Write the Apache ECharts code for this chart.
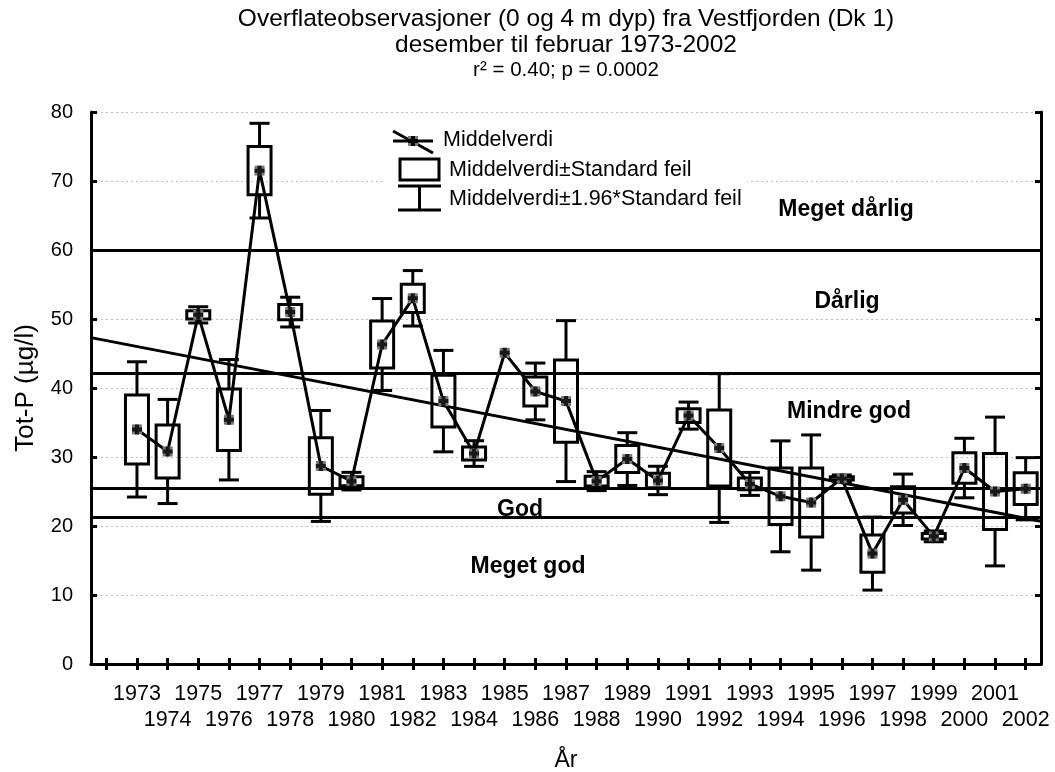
<!DOCTYPE html>
<html>
<head>
<meta charset="utf-8">
<script src="https://cdn.jsdelivr.net/npm/echarts@6/dist/echarts.min.js"></script>
<style>
  html, body { margin: 0; padding: 0; background: #fff; }
  #chart { width: 1055px; height: 772px; }
</style>
</head>
<body>
<div id="chart"></div>
<script>
// Winter (Dec–Feb) total phosphorus, surface samples, Vestfjorden (Dk 1)
const years = [1973, 1974, 1975, 1976, 1977, 1978, 1979, 1980, 1981, 1982,
               1983, 1984, 1985, 1986, 1987, 1988, 1989, 1990, 1991, 1992,
               1993, 1994, 1995, 1996, 1997, 1998, 1999, 2000, 2001, 2002];
// yearly mean Tot-P (µg/l)
const means = [34.0, 30.8, 50.6, 35.4, 71.5, 51.0, 28.7, 26.5, 46.3, 53.0,
               38.1, 30.5, 45.1, 39.5, 38.1, 26.5, 29.7, 26.6, 36.0, 31.3,
               26.1, 24.3, 23.4, 26.9, 16.0, 23.8, 18.5, 28.4, 25.0, 25.4];
// standard error of the yearly mean
const stdErr = [5.0, 3.85, 0.6, 4.45, 3.5, 1.1, 4.1, 0.65, 3.4, 2.05,
                3.75, 0.95, 0, 2.1, 5.95, 0.7, 1.95, 1.05, 1.0, 5.5,
                0.85, 4.1, 5.0, 0.25, 2.7, 1.9, 0.4, 2.2, 5.5, 2.3];
// class limits between condition classes (µg/l)
const classLimits = [21.2, 25.5, 42.2, 60];
// linear trend of the means, given at the ends of the x range
const trendYears = [1971.5, 2002.5];
const trendValues = [47.3, 20.7];
const tickYears = [1972].concat(years);
// year labels are staggered on two rows
const oddYears = years.filter(y => y % 2 === 1);
const evenYears = years.filter(y => y % 2 === 0);

const FONT = 'Liberation Sans, Arial, sans-serif';
const BLACK = '#000';

const chart = echarts.init(document.getElementById('chart'), null, { renderer: 'canvas' });

function renderErrorBox(params, api) {
  const x = api.value(0), m = api.value(1), se = api.value(2);
  if (!se) return null;
  const boxTop = api.coord([x, m + se]);
  const boxBot = api.coord([x, m - se]);
  const wTop = api.coord([x, m + 1.96 * se]);
  const wBot = api.coord([x, m - 1.96 * se]);
  const cx = boxTop[0];
  const bw = 23, cw = 20;
  const st = { stroke: BLACK, lineWidth: 3, fill: null };
  return {
    type: 'group',
    children: [
      { type: 'line', shape: { x1: cx, y1: boxTop[1], x2: cx, y2: wTop[1] }, style: st },
      { type: 'line', shape: { x1: cx - cw / 2, y1: wTop[1], x2: cx + cw / 2, y2: wTop[1] }, style: st },
      { type: 'line', shape: { x1: cx, y1: boxBot[1], x2: cx, y2: wBot[1] }, style: st },
      { type: 'line', shape: { x1: cx - cw / 2, y1: wBot[1], x2: cx + cw / 2, y2: wBot[1] }, style: st },
      { type: 'rect', shape: { x: cx - bw / 2, y: boxTop[1], width: bw, height: boxBot[1] - boxTop[1] },
        style: { stroke: BLACK, lineWidth: 3, fill: 'none' } }
    ]
  };
}

const axisLineStyle = { color: BLACK, width: 3 };
const tickStyle = { color: BLACK, width: 3 };
const yearText = v => String(v);

const bandLabel = (text, x, y) => ({
  type: 'text', x: x, y: y, z: 1,
  style: { text: text, font: 'bold 23px ' + FONT, fill: BLACK, align: 'center', verticalAlign: 'middle' }
});
const legendText = (text, x, y) => ({
  type: 'text', x: x, y: y, z: 4,
  style: { text: text, font: '21.5px ' + FONT, fill: BLACK, align: 'left', verticalAlign: 'middle' }
});
const lg = { stroke: BLACK, lineWidth: 3, fill: null };

const option = {
  animation: false,
  backgroundColor: '#fff',
  textStyle: { fontFamily: FONT },
  title: {
    text: 'Overflateobservasjoner (0 og 4 m dyp) fra Vestfjorden (Dk 1)\ndesember til februar 1973-2002',
    subtext: 'r² = 0.40; p = 0.0002',
    left: 566, top: 6, textAlign: 'center', padding: 0, itemGap: 0,
    textStyle: { fontFamily: FONT, fontSize: 24.5, fontWeight: 'normal', color: BLACK, lineHeight: 26 },
    subtextStyle: { fontFamily: FONT, fontSize: 20.5, color: BLACK, lineHeight: 24 }
  },
  grid: { left: 91, right: 14, top: 112, bottom: 108, containLabel: false, outerBoundsMode: 'none' },
  xAxis: [
    {
      type: 'value', position: 'bottom', offset: 0, min: trendYears[0], max: trendYears[1],
      name: 'År', nameLocation: 'middle', nameGap: 85,
      nameTextStyle: { fontFamily: FONT, fontSize: 23, color: BLACK },
      axisLine: { show: true, lineStyle: axisLineStyle },
      axisTick: { show: true, inside: true, length: 6, lineStyle: tickStyle, customValues: tickYears },
      axisLabel: {
        customValues: oddYears, formatter: yearText, fontSize: 21.5, color: BLACK, margin: 19,
        showMinLabel: true, showMaxLabel: true
      },
      splitLine: { show: false }
    },
    {
      type: 'value', position: 'top', offset: 0, min: trendYears[0], max: trendYears[1],
      axisLine: { show: true, lineStyle: axisLineStyle },
      axisTick: { show: true, inside: true, length: 6, lineStyle: tickStyle, customValues: tickYears },
      axisLabel: { show: false },
      splitLine: { show: false }
    },
    {
      type: 'value', position: 'bottom', offset: 0, min: trendYears[0], max: trendYears[1],
      axisLine: { show: false },
      axisTick: { show: false },
      axisLabel: {
        customValues: evenYears, formatter: yearText, fontSize: 21.5, color: BLACK, margin: 45,
        showMinLabel: true, showMaxLabel: true
      },
      splitLine: { show: false }
    }
  ],
  yAxis: [
    {
      type: 'value', position: 'left', min: 0, max: 80, interval: 10,
      name: 'Tot-P (µg/l)', nameLocation: 'middle', nameGap: 52, nameRotate: 90,
      nameTextStyle: { fontFamily: FONT, fontSize: 26, color: BLACK },
      axisLine: { show: true, lineStyle: axisLineStyle },
      axisTick: { show: true, inside: true, length: 6, lineStyle: tickStyle },
      axisLabel: { fontSize: 20, color: BLACK, margin: 18 },
      splitLine: { show: true, lineStyle: { color: '#bdbdbd', width: 1, type: [2, 3] } }
    },
    {
      type: 'value', position: 'right', min: 0, max: 80, interval: 10,
      axisLine: { show: true, lineStyle: axisLineStyle },
      axisTick: { show: true, inside: true, length: 6, lineStyle: tickStyle },
      axisLabel: { show: false },
      splitLine: { show: false }
    }
  ],
  graphic: [
    // blank panel behind the legend
    { type: 'rect', shape: { x: 384, y: 114, width: 363, height: 128 }, z: 1, silent: true,
      style: { fill: '#fff' } },
    bandLabel('Meget dårlig', 846, 210),
    bandLabel('Dårlig', 847, 302),
    bandLabel('Mindre god', 849, 412),
    bandLabel('God', 520, 510),
    bandLabel('Meget god', 528, 567),
    // legend: mean
    { type: 'line', z: 4, shape: { x1: 393, y1: 131, x2: 433, y2: 153 }, style: lg },
    { type: 'line', z: 4, shape: { x1: 393, y1: 141, x2: 433, y2: 141 }, style: lg },
    { type: 'rect', z: 5, shape: { x: 408, y: 136, width: 10, height: 10 }, style: { fill: '#777' } },
    { type: 'polygon', z: 6,
      shape: { points: [[411, 136], [415, 136], [415, 139], [418, 139], [418, 143], [415, 143],
                        [415, 146], [411, 146], [411, 143], [408, 143], [408, 139], [411, 139]] },
      style: { fill: BLACK } },
    legendText('Middelverdi', 443, 140),
    // legend: mean ± SE
    { type: 'rect', z: 4, shape: { x: 400, y: 159, width: 39, height: 21 }, style: { stroke: BLACK, lineWidth: 3, fill: 'none' } },
    legendText('Middelverdi±Standard feil', 449, 170),
    // legend: mean ± 1.96*SE
    { type: 'line', z: 4, shape: { x1: 398, y1: 186, x2: 441, y2: 186 }, style: lg },
    { type: 'line', z: 4, shape: { x1: 419.5, y1: 186, x2: 419.5, y2: 210 }, style: lg },
    { type: 'line', z: 4, shape: { x1: 398, y1: 210, x2: 441, y2: 210 }, style: lg },
    legendText('Middelverdi±1.96*Standard feil', 449, 199)
  ],
  series: [
    {
      name: 'Klassegrenser', type: 'line', data: [], z: 2,
      markLine: {
        silent: true, symbol: 'none', label: { show: false },
        lineStyle: { color: BLACK, width: 3, type: 'solid' },
        data: classLimits.map(v => ({ yAxis: v }))
      }
    },
    {
      name: 'Trend', type: 'line', z: 3, symbol: 'none',
      data: trendYears.map((y, i) => [y, trendValues[i]]),
      lineStyle: { color: BLACK, width: 3 }
    },
    {
      name: 'Middelverdi±Standard feil', type: 'custom', z: 4, clip: false,
      renderItem: renderErrorBox,
      encode: { x: 0, y: 1 },
      data: years.map((y, i) => [y, means[i], stdErr[i]])
    },
    {
      name: 'Middelverdi', type: 'line', z: 5,
      data: years.map((y, i) => [y, means[i]]),
      lineStyle: { color: BLACK, width: 3 },
      symbol: 'rect', symbolSize: 10,
      itemStyle: { color: '#777' }
    },
    {
      name: 'Middelverdi (kryss)', type: 'scatter', z: 6,
      data: years.map((y, i) => [y, means[i]]),
      symbol: 'path://M3,0H7V3H10V7H7V10H3V7H0V3H3Z', symbolSize: 10,
      itemStyle: { color: BLACK }
    }
  ]
};

chart.setOption(option);
</script>
</body>
</html>
